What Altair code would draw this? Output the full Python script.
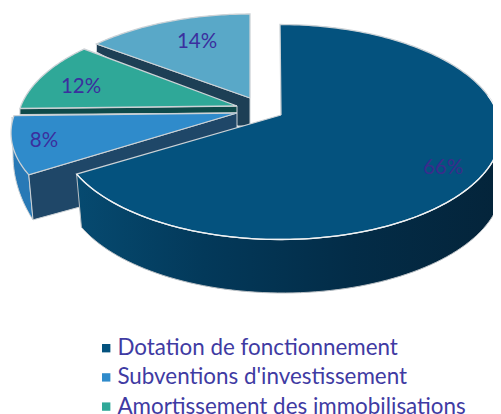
import numpy as np
import pandas as pd
import altair as alt

categories = ["Dotation de fonctionnement", "Subventions d'investissement",
              "Amortissement des immobilisations", "Part restante"]
shares = [66, 8, 12, 14]
labels = ["66%", "8%", "12%", "14%"]
top_colors = ["#04527e", "#2f8bcb", "#2fa898", "#59a8c8"]
legend_entries = categories[:3]

INK = "#3b2f9e"
LEGEND_INK = "#3f3ba3"
EDGE = "#ccd2d6"
FONT = "Lato"

# Perspective of the 3D pie: extra sweep at the cumulative share boundaries.
cum = np.cumsum(shares) / 100.0
skew = np.interp(cum, [0.66, 0.74, 0.86, 1.0], [9.4, 13.0, 6.4, 0.0])
ends = 360 * cum + skew
starts = np.concatenate([[0.0], ends[:-1]])


def arc(cx, cy, rx, ry, a, b, n=60):
    t = np.radians(np.linspace(a, b, n))
    return list(zip(cx + rx * np.sin(t), cy - ry * np.cos(t)))


def poly(points):
    pts = list(points) + [points[0]]
    return pd.DataFrame({"x": [p[0] for p in pts], "y": [p[1] for p in pts], "i": range(len(pts))})


X = alt.X("x:Q", scale=alt.Scale(domain=[8, 493]), axis=None)
Y = alt.Y("y:Q", scale=alt.Scale(domain=[414, 8]), axis=None)
fill_scale = alt.Scale(domain=categories, range=top_colors)


def grad(stops):
    return alt.LinearGradient(gradient="linear", x1=0, x2=1, y1=0, y2=0,
                              stops=[alt.GradientStop(offset=o, color=c) for o, c in stops])


def wall(points, fill, edge=EDGE, sw=1.0):
    return alt.Chart(poly(points)).mark_line(fill=fill, stroke=edge, strokeWidth=sw, interpolate="linear", clip=True).encode(
        x=X, y=Y, order="i:Q")


def face(points, k):
    d = poly(points)
    d["cat"] = categories[k]
    return alt.Chart(d).mark_line(stroke=EDGE, strokeWidth=1.3, interpolate="linear", clip=True).encode(
        x=X, y=Y, order="i:Q",
        fill=alt.Fill("cat:N", scale=fill_scale, legend=alt.Legend(
            values=legend_entries, title=None, orient="none", legendX=87, legendY=329,
            symbolType="square", symbolSize=70, symbolStrokeWidth=0, symbolStrokeColor="transparent",
            labelFont=FONT, labelFontSize=22.4, labelColor=LEGEND_INK, labelOffset=0, labelLimit=400,
            rowPadding=6.2, padding=0)))


layers = []

# 14% slice
e14 = (250, 121, 221, 107)
a14, b14 = starts[3], 360
p0 = arc(*e14, a14, a14, 1)[0]
layers.append(wall([p0, (250, 98), (250, 126), (238, 126), (p0[0], p0[1] + 8)], "#1d3f55"))
layers.append(face([(250, 98)] + arc(*e14, a14, b14), 3))

# 12% slice
e12 = (237, 126, 220, 107)
a12, b12 = starts[2], ends[2]
p0 = arc(*e12, a12, a12, 1)[0]
layers.append(wall([(237, 106), (237, 113), (p0[0], p0[1] + 6), p0], "#0e4a4a"))
layers.append(face([(237, 106)] + arc(*e12, a12, b12), 2))

# 8% slice
e8 = (235, 133, 224, 107)
a8, b8 = starts[1], ends[1]
p0 = arc(*e8, a8, a8, 1)[0]
outer = arc(237, 155, 224, 157, 245.6, 270, 30)
layers.append(wall([(12, 117)] + outer[::-1] + [p0], "#2879b6"))
layers.append(wall([p0, (237, 113), (237, 164), outer[0]], "#1f4768"))
layers.append(face([(237, 113)] + arc(*e8, a8, b8), 1))

# 66% slice
e66 = (280, 132, 221, 107.5)
a66, b66 = starts[0], ends[0]
front_top = arc(*e66, 70, b66, 90)
front_bot = arc(283, 185, 219, 108, 70, b66, 90)
layers.append(wall(front_top + front_bot[::-1],
                   grad([(0, "#064a70"), (0.3, "#03395a"), (0.65, "#032c47"), (1, "#04243a")]),
                   edge="#b9bfc4"))
layers.append(face([(281, 115)] + arc(*e66, a66, b66, 200), 0))
layers.append(alt.Chart(poly(front_top)[:-1]).mark_line(stroke="#f0f3f5", strokeWidth=1.3, clip=True).encode(
    x=X, y=Y, order="i:Q"))

# Percent labels
lab = pd.DataFrame({"x": [443, 44, 81, 197], "y": [168, 141, 87, 42], "t": labels,
                    "c": ["#3a2c8c", INK, INK, INK]})
layers.append(alt.Chart(lab).mark_text(font=FONT, fontSize=20.5).encode(
    x=X, y=Y, text="t:N", color=alt.Color("c:N", scale=None)))

chart = alt.layer(*layers).properties(
    width=485, height=406, padding=0,
    autosize=alt.AutoSizeParams(type="none"),
).configure_view(stroke=None)

chart.save("out.html", embed_options={"renderer": "svg", "actions": False})
